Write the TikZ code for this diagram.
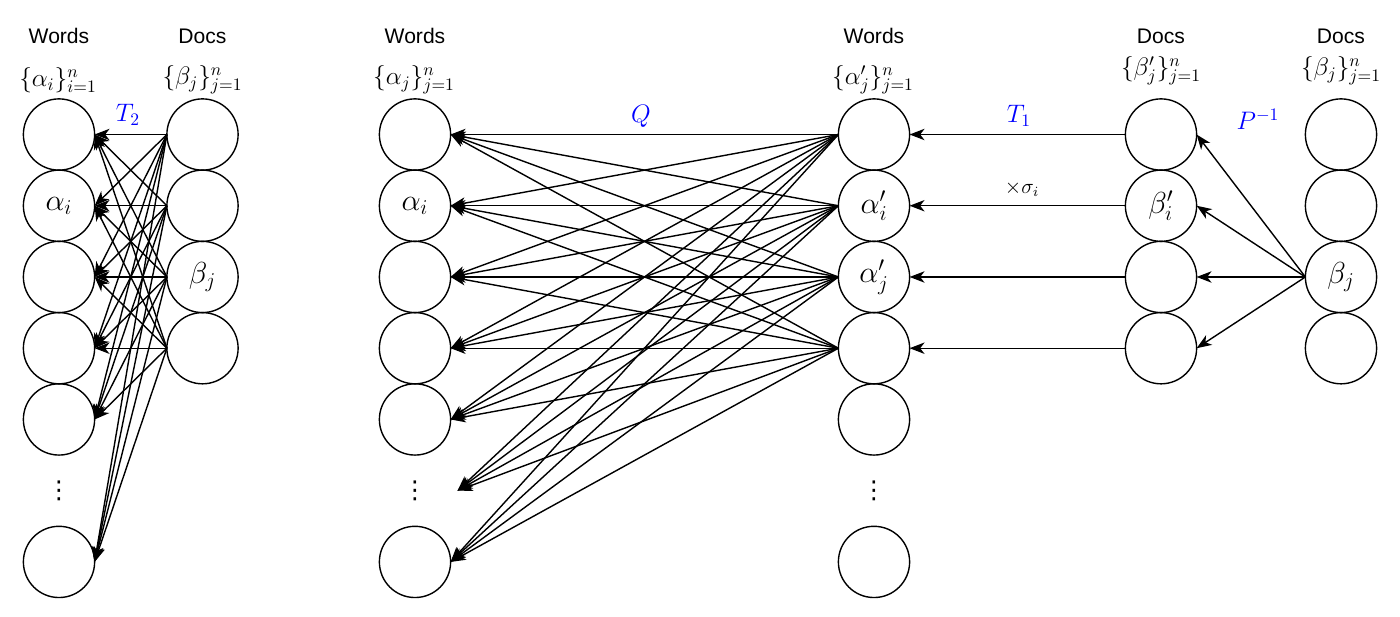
\documentclass[tikz,border=0pt]{standalone}
\usepackage{fontspec}
\setsansfont{Liberation Sans}
\newfontfamily\dotsfont{DejaVu Sans}
\usetikzlibrary{positioning}
\usetikzlibrary{arrows.meta}

\begin{document}
\begin{tikzpicture}[%
  x=0.02cm, y=-0.02cm,
  line width=0.8pt,
  >={Stealth[length=8.5pt,width=6.5pt,inset=2.5pt]},
  unit/.style={circle,draw,minimum size=1.425cm,inner sep=0pt,outer sep=0pt,font=\LARGE},
  gap/.style={rectangle,minimum width=1.7cm,minimum height=1.2cm,inner sep=0pt,outer sep=0pt,font=\dotsfont\fontsize{14}{14}\selectfont},
  head/.style={font=\sffamily\fontsize{12}{14}\selectfont},
  set/.style={font=\Large},
  map/.style={font=\Large,text=blue},
]

  \useasboundingbox (0,0) rectangle (1400,616);

  \node[unit] (la1) at (59,134.5) {};
  \node[unit,below=0pt of la1] (la2) {$\alpha_i$};
  \node[unit,below=0pt of la2] (la3) {};
  \node[unit,below=0pt of la3] (la4) {};
  \node[unit,below=0pt of la4] (la5) {};
  \node[gap,below=0.1125cm of la5] (lad) {⋮};
  \node[unit,below=0.1125cm of lad] (la6) {};

  \node[unit] (lb1) at (202.5,134.5) {};
  \node[unit,below=0pt of lb1] (lb2) {};
  \node[unit,below=0pt of lb2] (lb3) {$\beta_j$};
  \node[unit,below=0pt of lb3] (lb4) {};

  \node[unit] (ma1) at (415,134.5) {};
  \node[unit,below=0pt of ma1] (ma2) {$\alpha_i$};
  \node[unit,below=0pt of ma2] (ma3) {};
  \node[unit,below=0pt of ma3] (ma4) {};
  \node[unit,below=0pt of ma4] (ma5) {};
  \node[gap,below=0.1125cm of ma5] (mad) {⋮};
  \node[unit,below=0.1125cm of mad] (ma6) {};

  \node[unit] (mb1) at (874,134.5) {};
  \node[unit,below=0pt of mb1] (mb2) {$\alpha'_i$};
  \node[unit,below=0pt of mb2] (mb3) {$\alpha'_j$};
  \node[unit,below=0pt of mb3] (mb4) {};
  \node[unit,below=0pt of mb4] (mb5) {};
  \node[gap,below=0.1125cm of mb5] (mbd) {⋮};
  \node[unit,below=0.1125cm of mbd] (mb6) {};

  \node[unit] (rb1) at (1161,134.5) {};
  \node[unit,below=0pt of rb1] (rb2) {$\beta'_i$};
  \node[unit,below=0pt of rb2] (rb3) {};
  \node[unit,below=0pt of rb3] (rb4) {};

  \node[unit] (rc1) at (1341,134.5) {};
  \node[unit,below=0pt of rc1] (rc2) {};
  \node[unit,below=0pt of rc2] (rc3) {$\beta_j$};
  \node[unit,below=0pt of rc3] (rc4) {};

  \node[head] (hla) at (59,36) {Words};
  \node[head] (hlb) at (202.5,36) {Docs};
  \node[head] (hma) at (415,36) {Words};
  \node[head] (hmb) at (874,36) {Words};
  \node[head] (hrb) at (1161,36) {Docs};
  \node[head] (hrc) at (1341,36) {Docs};

  \node[set] (sla) at (58,80) {$\{\alpha_i\}_{i=1}^n$};
  \node[set] (slb) at (202.5,80) {$\{\beta_j\}_{j=1}^n$};
  \node[set] (sma) at (414,80) {$\{\alpha_j\}_{j=1}^n$};
  \node[set] (smb) at (873,80) {$\{\alpha'_j\}_{j=1}^n$};
  \node[set] (srb) at (1161,71) {$\{\beta'_j\}_{j=1}^n$};
  \node[set] (src) at (1341,71) {$\{\beta_j\}_{j=1}^n$};

  \foreach \s in {1,...,4}
    \foreach \t in {1,...,6}
      \draw[->] (lb\s.west) -- (la\t.east);

  \foreach \s in {1,...,4}
    \foreach \t in {1,2,3,4,5,d,6}
      \draw[->] (mb\s.west) -- (ma\t.east);

  \foreach \s in {1,...,4}
    \draw[->] (rb\s.west) -- (mb\s.east);

  \foreach \t in {1,...,4}
    \draw[->] (rc3.west) -- (rb\t.east);

  \node[map] (t2) at (128,115) {$T_2$};
  \node[map] (q) at (641,116) {$Q$};
  \node[map] (t1) at (1019,116) {$T_1$};
  \node[font=\large] (sig) at (1022,189) {$\times\sigma_i$};
  \node[map] (pinv) at (1258,119) {$P^{-1}$};

\end{tikzpicture}
\end{document}
